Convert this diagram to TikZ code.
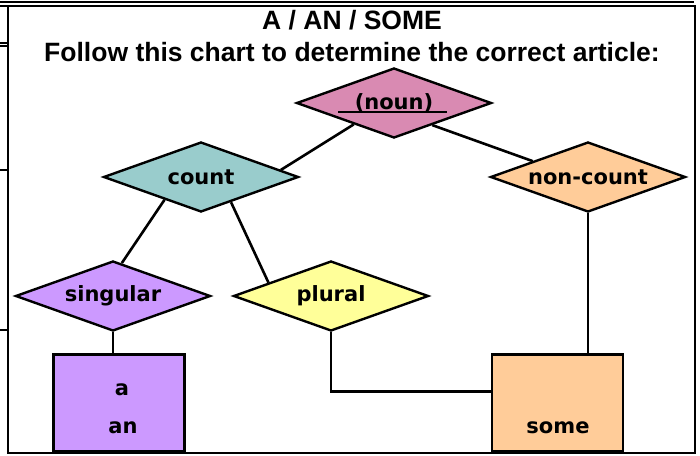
\documentclass[tikz,border=0pt]{standalone}
\usepackage{fontspec}
\setmainfont{Liberation Sans}
\newfontfamily\chartfont{DejaVu Sans}
\usetikzlibrary{shapes.geometric, positioning, calc}
\definecolor{nounpink}{RGB}{217, 138, 178}
\definecolor{countteal}{RGB}{153, 204, 204}
\definecolor{peach}{RGB}{255, 204, 153}
\definecolor{lilac}{RGB}{204, 153, 255}
\definecolor{paleyellow}{RGB}{255, 255, 153}

\begin{document}
\begin{tikzpicture}[
    x=1pt, y=-1pt,
    choice/.style={diamond, aspect=2.79, draw=black, line width=2.4pt,
                   minimum width=195pt, minimum height=70pt, inner sep=0pt,
                   font=\chartfont\bfseries\fontsize{21}{24}\selectfont},
    answer/.style={rectangle, draw=black, line width=2.6pt,
                   minimum width=131pt, minimum height=97pt, inner sep=0pt},
    word/.style={font=\chartfont\bfseries\fontsize{21}{24}\selectfont, inner sep=0pt},
    title/.style={font=\bfseries\fontsize{26.5}{30}\selectfont, inner sep=0pt},
    link/.style={line width=2.6pt, black},
    frame/.style={line width=2pt, black}
]
\useasboundingbox (0,0) rectangle (700,455);

% outer frame
\draw[frame] (0,2) -- (694,2);
\draw[frame] (0,6) -- (695,6) -- (695,453) -- (7.5,453) -- (7.5,6);
\draw[frame] (0,43) -- (7.5,43);
\draw[frame] (0,46) -- (7.5,46);
\draw[frame] (0,170) -- (7.5,170);
\draw[frame] (0,330) -- (7.5,330);

\node[title] (head) at (352,20) {A / AN / SOME};
\node[title] (sub)  at (352,52) {Follow this chart to determine the correct article:};

\node[choice, fill=nounpink]   (noun)     at (394,103) {(noun)};
\node[choice, fill=countteal]  (count)    at (201,177) {count};
\node[choice, fill=peach]      (noncount) at (588,177) {non-count};
\node[choice, fill=lilac]      (singular) at (113,296) {singular};
\node[choice, fill=paleyellow] (plural)   at (331,296) {plural};
\node[answer, fill=lilac]      (aan)      at (119,403) {};
\node[answer, fill=peach]      (some)     at (557.5,403) {};

\node[word] (a)  at (122,390) {a};
\node[word] (an) at (123,428) {an};
\node[word] (sm) at (558,428) {some};

% underline of (noun)
\draw[line width=2.4pt] ([xshift=-56pt,yshift=-9pt]noun.center)
    -- ([xshift=53pt,yshift=-9pt]noun.center);

\draw[link] (noun.208)      -- (count.5);
\draw[link] (noun.330)      -- (noncount.164);
\draw[link] (count.212)     -- (singular.75);
\draw[link] (count.320)     -- (plural.168);
\draw[link] (singular.south) -- (singular.south |- aan.north);
\draw[link] (plural.south)  |- (some.170);
\draw[link] (noncount.south) -- (noncount.south |- some.north);
\end{tikzpicture}
\end{document}
